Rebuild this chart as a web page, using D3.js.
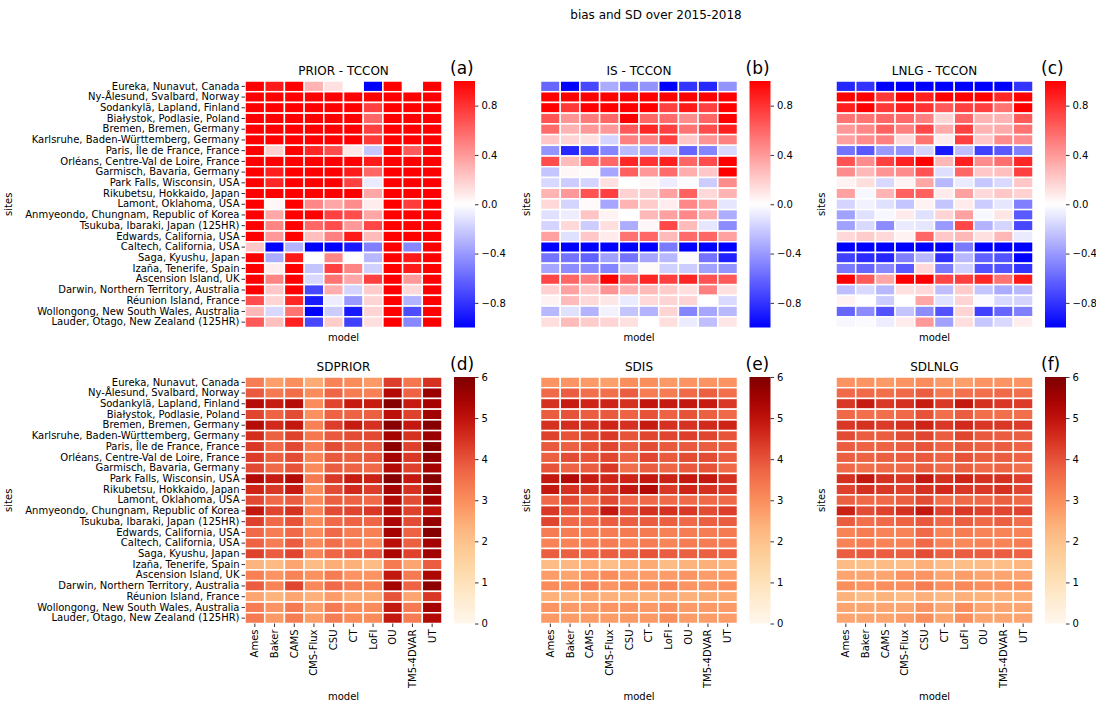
<!DOCTYPE html>
<html>
<head>
<meta charset="utf-8">
<script src="https://cdn.jsdelivr.net/npm/d3@7"></script>
<style>
  body { margin: 0; background: #fff; }
  .tick line { stroke: #000; stroke-width: 0.8; }
</style>
</head>
<body>
<div id="chart"></div>
<script>
const models = ['Ames', 'Baker', 'CAMS', 'CMS-Flux', 'CSU', 'CT', 'LoFI', 'OU', 'TM5-4DVAR', 'UT'];
const sites = [
  'Eureka, Nunavut, Canada', 'Ny-Ålesund, Svalbard, Norway', 'Sodankylä, Lapland, Finland',
  'Białystok, Podlasie, Poland', 'Bremen, Bremen, Germany', 'Karlsruhe, Baden-Württemberg, Germany',
  'Paris, Île de France, France', 'Orléans, Centre-Val de Loire, France', 'Garmisch, Bavaria, Germany',
  'Park Falls, Wisconsin, USA', 'Rikubetsu, Hokkaido, Japan', 'Lamont, Oklahoma, USA',
  'Anmyeondo, Chungnam, Republic of Korea', 'Tsukuba, Ibaraki, Japan (125HR)', 'Edwards, California, USA',
  'Caltech, California, USA', 'Saga, Kyushu, Japan', 'Izaña, Tenerife, Spain', 'Ascension Island, UK',
  'Darwin, Northern Territory, Australia', 'Réunion Island, France',
  'Wollongong, New South Wales, Australia', 'Lauder, Otago, New Zealand (125HR)'
];

// bias (model - TCCON), one row per site
const biasPrior = [
  [1, 0.9, 1, 0.3, 0.12, 0, -1, 1, 0.01, 1],
  [1, 1, 1, 1, 1, 1, 1, 1, 1, 1],
  [1, 1, 1, 1, 1, 1, 0.75, 1, 1, 1],
  [1, 1, 1, 1, 1, 1, 0.6, 1, 1, 1],
  [1, 1, 1, 1, 1, 1, 0.75, 1, 1, 1],
  [1, 1, 1, 1, 1, 1, 0.78, 1, 1, 1],
  [1, 0.18, 1, 0.85, 0.7, 0.1, -0.22, 1, 0.65, 1],
  [1, 1, 1, 1, 1, 1, 0.9, 1, 1, 1],
  [1, 0.88, 1, 1, 1, 0.9, 0.6, 1, 1, 1],
  [1, 0.85, 1, 1, 1, 0.75, -0.08, 1, 1, 1],
  [1, 1, 1, 1, 1, 1, 0.35, 1, 1, 1],
  [1, 0.03, 1, 0.47, 0.35, 0.45, 0.07, 1, 0.77, 1],
  [1, 0.35, 1, 1, 0.75, 0.7, 0.35, 1, 1, 1],
  [1, 0.48, 1, 0.6, 0.7, 0.4, 0.72, 1, 1, 1],
  [1, 0.4, 1, 0.25, 0.5, 0.9, 0.27, 1, 1, 1],
  [0.22, -1, -0.3, -1, -1, -0.9, -0.5, 1, -0.47, 1],
  [1, -0.32, 0.9, 0, 0.47, 0, -0.28, 1, 0.9, 1],
  [1, 0.07, 1, -0.23, 0.75, 0.48, -0.18, 1, 0.9, 1],
  [1, 0.48, 1, -0.15, 0.55, 0.35, 0.75, 1, 0.4, 1],
  [1, 0.22, 1, -0.72, 0.32, -0.17, 0.2, 1, 0.15, 1],
  [0.7, 0.17, 0.85, -0.9, -0.07, -0.4, 0.17, 1, -0.3, 1],
  [0.28, -0.15, 0.55, -1, -0.2, -0.9, 0.17, 1, -0.7, 1],
  [0.65, 0.25, 0.87, -0.72, 0.2, -0.75, 0.13, 1, -0.47, 1]
];
const biasIS = [
  [-0.6, -1, -0.72, -0.33, -0.5, -0.42, -1, -0.8, -0.85, -0.42],
  [1, 1, 1, 1, 1, 1, 1, 1, 1, 1],
  [1, 0.78, 1, 1, 1, 1, 0.75, 0.9, 0.75, 1],
  [0.68, 0.42, 0.52, 0.6, 1, 0.6, 0.58, 0.45, 0.6, 1],
  [0.58, 0.3, 0.4, 0.4, 0.65, 0.85, 0.75, 0.55, 0.7, 0.88],
  [0.22, 0.17, 0.12, -0.17, 0.5, 0.5, 0.75, 0.22, 0.42, 0.5],
  [-0.42, -0.85, -0.68, -0.48, -0.27, -0.35, -0.22, -0.6, -0.48, -0.15],
  [0.7, 0.27, 0.58, 0.6, 0.85, 0.8, 0.88, 0.6, 0.7, 1],
  [-0.23, 0.03, 0.02, -0.35, 0.62, 0.4, 0.58, 0.32, 0.22, 1],
  [-0.15, -0.2, -0.17, 0.12, 0, 0.03, -0.07, -0.02, -0.2, 0.45],
  [0.3, 0.4, 0.68, 0.75, 0.18, 0.2, 0.37, 0.62, 0.15, 0.3],
  [0.15, -0.17, 0.02, -0.35, 0.3, 0.2, 0.07, 0.47, 0.35, -0.1],
  [-0.12, -0.07, 0.23, 0.05, 0, 0.28, 0.37, 0.47, 0.33, -0.32],
  [-0.17, 0.15, -0.2, 0.13, -0.32, 0.03, 0.72, 0.27, -0.1, -0.45],
  [0.37, -0.12, 0.22, 0.08, 0.55, 0.6, 0.27, 0.58, 0.6, 0.37],
  [-1, -1, -1, -1, -1, -1, -0.52, -1, -1, -1],
  [-0.55, -0.55, -0.62, -0.37, -0.55, -0.35, -0.28, -0.02, -0.55, -0.88],
  [-0.35, -0.45, -0.45, -0.48, -0.2, 0.02, -0.18, -0.2, -0.37, -0.42],
  [0.72, 0.6, 0.5, 1, 0.62, 0.85, 0.75, 0.85, 0.68, 0.65],
  [0.18, 0.37, 0.22, 0.42, 0.3, 0.27, 0.2, 0.13, 0.5, 0.12],
  [0.05, 0.27, 0.15, 0.1, -0.08, 0.15, 0.17, 0.17, 0, -0.15],
  [-0.28, -0.12, -0.3, -0.05, -0.23, -0.3, 0.17, -0.48, -0.35, -0.28],
  [0.13, 0.27, 0.2, 0.17, 0.12, 0, 0.13, -0.08, -0.25, 0.1]
];
const biasLNLG = [
  [-0.85, -0.8, -1, -1, -1, -1, -1, -1, -1, -0.8],
  [1, 1, 0.78, 1, 0.88, 1, 1, 1, 0.85, 1],
  [0.88, 1, 0.78, 0.88, 0.8, 0.65, 0.75, 0.75, 0.55, 1],
  [0.55, 0.55, 0.6, 0.58, 0.5, 0.17, 0.6, 0.3, 0.3, 0.65],
  [0.4, 0.47, 0.62, 0.5, 0.72, 0.33, 0.75, 0.3, 0.33, 0.55],
  [0.37, 0.45, 0.5, 0.15, 0.55, 0.08, 0.75, 0.22, 0.45, 0.45],
  [-0.55, -0.65, -0.4, -0.42, -0.17, -0.9, -0.25, -0.75, -0.65, -0.5],
  [0.68, 0.45, 0.75, 0.87, 1, 0.28, 0.88, 0.45, 0.57, 0.85],
  [0.45, 0.28, 0.42, 0.45, 0.68, -0.13, 0.6, 0.22, 0.25, 0.75],
  [0.05, 0.13, -0.15, 0.05, 0.35, -0.28, -0.08, -0.22, -0.15, 0.22],
  [0.37, -0.03, 0.3, 0.62, 0.62, 0.08, 0.37, 0.15, 0.22, 0.18],
  [-0.17, -0.05, -0.12, -0.23, 0.05, -0.23, 0.08, -0.2, -0.1, -0.5],
  [-0.37, -0.12, -0.03, 0.08, -0.12, 0.17, 0.37, -0.03, 0.1, -0.65],
  [-0.37, -0.15, -0.45, -0.08, -0.1, -0.4, 0.72, -0.3, -0.17, -0.72],
  [0.15, 0.2, 0.15, 0.05, 0.6, 0.22, 0.28, 0.12, 0.28, -0.08],
  [-1, -1, -1, -1, -1, -1, -0.52, -1, -1, -1],
  [-0.75, -0.83, -0.85, -0.5, -0.28, -0.82, -0.28, -0.62, -0.68, -1],
  [-0.52, -0.6, -0.47, -0.65, 0.15, -0.52, -0.18, -0.68, -0.68, -0.8],
  [1, 0.65, 0.35, 1, 1, 0.72, 0.75, 0.85, 0.55, 0.9],
  [-0.25, -0.15, -0.28, 0.12, 0.15, -0.25, 0.2, -0.23, -0.33, -0.28],
  [0.05, 0, -0.2, 0, 0.35, -0.12, 0.17, -0.02, -0.15, -0.17],
  [-0.6, -0.45, -0.68, -0.23, -0.45, -0.68, 0.17, -0.75, -0.6, -0.5],
  [-0.03, -0.02, -0.07, 0.08, 0.4, -0.37, 0.13, -0.22, -0.15, 0.07]
];

// standard deviations
const sdPrior = [
  [3.3, 2.7, 3.0, 2.5, 3.2, 3.05, 2.8, 4.3, 3.4, 4.5],
  [3.9, 3.35, 3.6, 3.05, 3.7, 3.3, 3.25, 5.2, 3.75, 5.6],
  [5.15, 4.85, 5.15, 3.05, 4.2, 4.85, 4.85, 5.9, 4.85, 5.45],
  [4.2, 3.75, 4.1, 2.95, 3.75, 3.75, 3.8, 5.05, 4.25, 5.5],
  [5.15, 4.6, 4.9, 3.25, 4.3, 4.85, 4.5, 5.85, 4.9, 5.9],
  [4.55, 3.8, 4.25, 3.4, 3.9, 4.1, 4.15, 5.45, 4.5, 5.6],
  [4.4, 3.65, 4.15, 3.3, 4.1, 3.8, 3.85, 5.8, 4.25, 5.9],
  [4.35, 3.8, 4.1, 3.2, 3.9, 3.8, 3.9, 5.45, 4.4, 5.75],
  [4.15, 3.65, 4.0, 3.05, 3.85, 3.75, 3.65, 5.2, 4.25, 5.45],
  [5.2, 4.85, 5.2, 3.35, 4.4, 4.85, 4.75, 5.9, 4.9, 5.9],
  [4.7, 4.4, 4.85, 3.05, 4.1, 4.6, 4.3, 5.45, 4.5, 5.6],
  [4.15, 3.65, 3.85, 3.05, 3.8, 3.75, 3.65, 5.2, 4.1, 5.45],
  [4.9, 4.2, 4.5, 3.2, 4.1, 4.2, 4.4, 5.2, 4.25, 5.05],
  [4.25, 3.65, 4.0, 3.05, 3.65, 3.75, 3.7, 5.3, 4.1, 5.7],
  [3.65, 3.3, 3.65, 3.05, 3.65, 3.3, 3.25, 5.45, 3.75, 5.9],
  [3.75, 3.3, 3.85, 3.1, 3.55, 3.3, 3.1, 5.1, 3.8, 5.45],
  [4.25, 3.85, 4.2, 3.15, 3.7, 3.8, 3.85, 5.35, 4.25, 5.5],
  [2.3, 2.2, 2.6, 2.15, 2.45, 2.4, 2.15, 3.35, 2.6, 3.85],
  [3.25, 2.9, 3.2, 2.95, 3.3, 2.9, 2.9, 4.9, 3.35, 5.3],
  [3.85, 3.2, 4.2, 3.1, 3.65, 3.3, 3.25, 5.45, 3.75, 5.8],
  [2.6, 2.35, 2.6, 2.4, 2.75, 2.4, 2.5, 4.0, 2.6, 4.4],
  [3.3, 2.9, 3.35, 2.75, 3.35, 3.05, 3.05, 4.9, 3.35, 5.45],
  [3.35, 2.8, 3.3, 2.75, 3.3, 3.05, 3.05, 4.9, 3.3, 5.2]
];
const sdIS = [
  [2.9, 2.9, 2.8, 2.7, 3.0, 3.0, 2.8, 2.9, 2.9, 2.9],
  [3.65, 3.85, 3.55, 3.55, 3.85, 3.3, 3.3, 3.65, 3.8, 3.55],
  [4.5, 4.85, 4.7, 4.7, 4.5, 4.95, 4.85, 4.9, 4.85, 4.4],
  [3.85, 4.0, 3.85, 3.9, 3.75, 4.0, 3.75, 4.0, 3.8, 3.65],
  [4.5, 4.55, 4.5, 4.7, 4.5, 4.85, 4.5, 4.5, 4.6, 4.7],
  [4.25, 4.0, 4.2, 4.4, 4.0, 4.2, 4.2, 4.3, 4.2, 4.0],
  [3.9, 3.8, 4.0, 4.2, 3.85, 4.1, 3.9, 3.9, 3.85, 3.85],
  [3.8, 4.1, 4.0, 4.2, 3.75, 4.2, 3.9, 4.1, 4.1, 3.85],
  [4.0, 3.75, 3.85, 4.4, 3.55, 3.85, 3.7, 3.9, 4.0, 3.65],
  [4.9, 5.2, 4.85, 4.7, 4.7, 4.9, 4.75, 4.9, 4.9, 4.5],
  [4.9, 4.5, 4.5, 4.5, 4.9, 5.2, 4.4, 4.7, 4.5, 4.4],
  [3.65, 4.1, 3.55, 4.1, 3.65, 3.65, 3.65, 3.65, 3.65, 3.65],
  [4.4, 4.0, 4.0, 4.9, 4.2, 4.5, 4.5, 4.4, 4.1, 4.3],
  [4.2, 3.65, 3.65, 3.85, 3.8, 3.85, 3.8, 3.65, 3.8, 3.85],
  [3.3, 3.3, 3.3, 3.3, 3.35, 3.35, 3.25, 3.3, 3.3, 3.35],
  [3.2, 3.2, 3.3, 3.3, 3.2, 3.3, 3.15, 3.3, 3.3, 3.3],
  [3.85, 3.8, 3.75, 3.85, 3.8, 4.0, 3.85, 3.8, 3.8, 3.75],
  [2.15, 2.25, 2.4, 2.1, 2.4, 2.5, 2.15, 2.35, 2.4, 2.35],
  [2.75, 2.6, 2.9, 3.05, 2.75, 2.75, 2.75, 2.9, 2.75, 2.75],
  [3.05, 3.0, 3.3, 2.9, 3.05, 3.0, 3.2, 2.9, 2.9, 3.0],
  [2.4, 2.35, 2.5, 2.4, 2.35, 2.35, 2.5, 2.4, 2.5, 2.5],
  [2.9, 2.8, 2.8, 2.9, 2.9, 2.8, 3.0, 2.8, 2.8, 2.8],
  [2.8, 2.75, 2.75, 2.75, 2.8, 2.8, 3.0, 2.75, 2.75, 2.75]
];
const sdLNLG = [
  [2.9, 2.9, 2.8, 2.9, 3.05, 2.8, 2.7, 2.9, 2.9, 2.9],
  [3.65, 3.65, 3.55, 3.65, 3.85, 3.35, 3.5, 3.55, 3.65, 3.55],
  [4.4, 4.85, 4.4, 4.5, 4.85, 4.4, 4.9, 4.5, 4.4, 4.35],
  [3.65, 3.55, 3.55, 3.65, 4.0, 3.55, 3.85, 3.55, 3.55, 3.55],
  [4.4, 4.5, 4.35, 4.5, 4.7, 4.4, 4.6, 4.4, 4.4, 4.35],
  [4.1, 3.85, 3.85, 4.1, 4.2, 3.85, 4.2, 3.9, 3.85, 3.85],
  [3.85, 3.75, 3.75, 3.85, 4.0, 3.75, 3.9, 3.8, 3.85, 3.75],
  [3.8, 3.75, 3.8, 3.85, 3.9, 3.75, 4.0, 3.8, 3.85, 3.75],
  [3.65, 3.55, 3.65, 3.65, 3.85, 3.65, 3.8, 3.65, 3.75, 3.55],
  [4.5, 4.9, 4.5, 4.4, 4.9, 4.5, 4.7, 4.5, 4.5, 4.3],
  [4.25, 4.5, 4.4, 4.25, 4.5, 4.6, 4.4, 4.4, 4.5, 4.2],
  [3.8, 3.65, 3.65, 3.8, 4.1, 3.55, 3.65, 3.65, 3.8, 3.65],
  [4.75, 4.1, 4.25, 4.5, 4.9, 4.25, 4.4, 4.25, 4.2, 4.2],
  [3.85, 3.55, 3.65, 3.75, 3.9, 3.65, 3.8, 3.65, 3.8, 3.55],
  [3.2, 3.3, 3.2, 3.2, 3.65, 3.2, 3.3, 3.2, 3.2, 3.2],
  [3.2, 3.3, 3.2, 3.2, 3.65, 3.2, 3.1, 3.2, 3.2, 3.3],
  [3.85, 3.9, 3.85, 3.8, 4.1, 3.8, 3.85, 3.85, 3.85, 3.75],
  [2.15, 2.1, 2.15, 2.1, 2.4, 2.15, 2.1, 2.15, 2.1, 2.25],
  [2.6, 2.6, 2.6, 2.9, 2.9, 2.6, 2.75, 2.6, 2.6, 2.6],
  [3.0, 2.9, 3.0, 3.0, 3.3, 3.0, 3.1, 3.0, 3.0, 3.0],
  [2.35, 2.15, 2.35, 2.15, 2.4, 2.25, 2.4, 2.35, 2.35, 2.4],
  [2.6, 2.6, 2.6, 2.6, 2.9, 2.6, 3.0, 2.6, 2.6, 2.6],
  [2.6, 2.6, 2.6, 2.75, 3.0, 2.6, 3.0, 2.6, 2.6, 2.6]
];

const biasTicks = [-0.8, -0.4, 0.0, 0.4, 0.8];
const sdTicks = [0, 1, 2, 3, 4, 5, 6];

const FONT = '"DejaVu Sans", sans-serif';
const W = 1096, H = 713;
const svg = d3.select('#chart').append('svg')
  .attr('width', W).attr('height', H);

svg.append('text')
  .attr('x', 656).attr('y', 19)
  .attr('text-anchor', 'middle')
  .style('font-family', FONT)
  .style('font-size', '12px')
  .text('bias and SD over 2015-2018');

const bwr = d3.scaleLinear().domain([-1, 0, 1]).range(['#0000ff', '#ffffff', '#ff0000']).clamp(true);
const orrd = d3.scaleSequential(d3.interpolateOrRd).domain([0, 6]).clamp(true);

const panels = [
  {data: biasPrior, title: 'PRIOR - TCCON', tag: '(a)', col: 0, row: 0},
  {data: biasIS, title: 'IS - TCCON', tag: '(b)', col: 1, row: 0},
  {data: biasLNLG, title: 'LNLG - TCCON', tag: '(c)', col: 2, row: 0},
  {data: sdPrior, title: 'SDPRIOR', tag: '(d)', col: 0, row: 1},
  {data: sdIS, title: 'SDIS', tag: '(e)', col: 1, row: 1},
  {data: sdLNLG, title: 'SDLNLG', tag: '(f)', col: 2, row: 1}
];

const colX = [245, 540.5, 836];
const rowY = [81, 377];
const hmW = 197, hmH = 246.5;

function styleTicks(ax) {
  ax.attr('font-family', null).attr('font-size', null);
  ax.select('.domain').remove();
  ax.selectAll('.tick text')
    .style('font-family', FONT)
    .style('font-size', '10px')
    .attr('fill', '#000');
}

panels.forEach((p, pi) => {
  const x0 = colX[p.col], y0 = rowY[p.row];
  const color = p.row === 0 ? bwr : orrd;
  const g = svg.append('g').attr('transform', `translate(${x0},${y0})`);

  const x = d3.scaleBand().domain(models).range([0, hmW]);
  const y = d3.scaleBand().domain(sites).range([0, hmH]);

  const cells = [];
  p.data.forEach((r, i) => r.forEach((v, j) => cells.push({site: sites[i], model: models[j], v: v})));

  g.selectAll('.cell')
    .data(cells)
    .enter()
    .append('rect')
    .attr('class', 'cell')
    .attr('x', d => x(d.model))
    .attr('y', d => y(d.site))
    .attr('width', x.bandwidth())
    .attr('height', y.bandwidth())
    .attr('fill', d => color(d.v))
    .attr('stroke', '#fff')
    .attr('stroke-width', 1.5);

  // y axis
  const yAx = g.append('g')
    .call(d3.axisLeft(y).tickSize(3.5).tickPadding(2));
  styleTicks(yAx);
  if (p.col !== 0) yAx.selectAll('.tick').remove();

  g.append('text')
    .attr('transform', `translate(${p.col === 0 ? -233 : -11},${hmH / 2}) rotate(-90)`)
    .attr('text-anchor', 'middle')
    .style('font-family', FONT)
    .style('font-size', '10px')
    .text('sites');

  // x axis
  const xAx = g.append('g')
    .attr('transform', `translate(0,${hmH})`)
    .call(d3.axisBottom(x).tickSize(3.5).tickPadding(2));
  styleTicks(xAx);
  if (p.row === 0) {
    xAx.selectAll('.tick').remove();
  } else {
    xAx.selectAll('.tick text')
      .attr('transform', 'rotate(-90)')
      .attr('text-anchor', 'end')
      .attr('x', -6)
      .attr('y', 0)
      .attr('dy', '0.35em');
  }

  g.append('text')
    .attr('x', hmW / 2)
    .attr('y', p.row === 0 ? hmH + 13 : hmH + 76)
    .attr('text-anchor', 'middle')
    .style('font-family', FONT)
    .style('font-size', '10px')
    .text('model');

  g.append('text')
    .attr('x', hmW / 2)
    .attr('y', -6)
    .attr('text-anchor', 'middle')
    .style('font-family', FONT)
    .style('font-size', '12px')
    .text(p.title);

  g.append('text')
    .attr('x', 205)
    .attr('y', -7)
    .style('font-family', FONT)
    .style('font-size', '17px')
    .text(p.tag);

  // colorbar
  const cbX = 209, cbW = 21;
  const gradId = 'grad' + pi;
  const grad = svg.append('defs').append('linearGradient')
    .attr('id', gradId)
    .attr('x1', 0).attr('y1', 1).attr('x2', 0).attr('y2', 0);
  const dom = color.domain();
  const lo = dom[0], hi = dom[dom.length - 1];
  d3.range(0, 1.0001, 0.05).forEach(t => {
    grad.append('stop')
      .attr('offset', t)
      .attr('stop-color', color(lo + t * (hi - lo)));
  });
  g.append('rect')
    .attr('x', cbX).attr('y', 0)
    .attr('width', cbW).attr('height', hmH)
    .attr('fill', `url(#${gradId})`);

  const cbScale = d3.scaleLinear().domain([lo, hi]).range([hmH, 0]);
  const cbAx = g.append('g')
    .attr('transform', `translate(${cbX + cbW},0)`)
    .call(d3.axisRight(cbScale)
      .tickValues(p.row === 0 ? biasTicks : sdTicks)
      .tickSize(3.5).tickPadding(3)
      .tickFormat(p.row === 0 ? d => d3.format('.1f')(d).replace('-', '−') : d3.format('d')));
  styleTicks(cbAx);
});
</script>
</body>
</html>
